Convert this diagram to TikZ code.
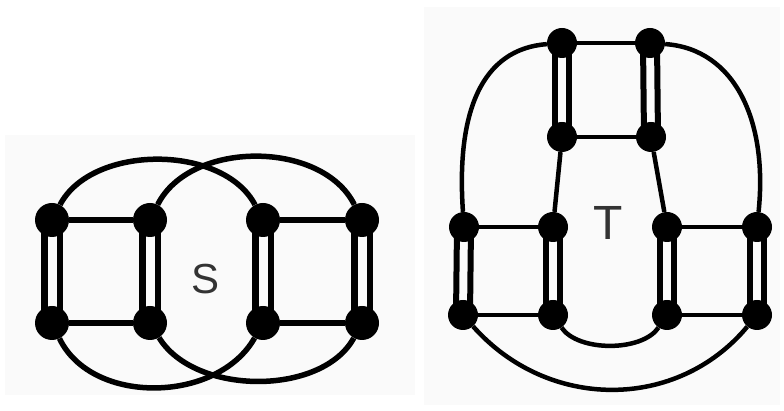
\documentclass[tikz,border=0pt]{standalone}
\usepackage{fontspec}
\newfontfamily\labelfont{Liberation Sans}
\definecolor{panelgray}{HTML}{FAFAFA}
\definecolor{labelgray}{HTML}{333333}
\tikzset{
  vtxS/.style={circle, fill=black, inner sep=0pt, minimum size=34pt},
  vtxT/.style={circle, fill=black, inner sep=0pt, minimum size=30pt},
  edgeS/.style={line width=5.5pt},
  edgeT/.style={line width=4.5pt},
  railS/.style={line width=6.5pt},
  railT/.style={line width=6pt}
}

\begin{document}
\begin{tikzpicture}[x=1pt, y=1pt]
			%%%%% START %%%%%
			\useasboundingbox (0, 0) rectangle (784, 411);
			\fill[panelgray] (5, 16) rectangle (415, 276);
			\fill[panelgray] (424, 6) rectangle (780, 404);
			
			% graph S
			\node[vtxS] (a1) at (52, 191) {};
			\node[vtxS] (a2) at (150, 191) {};
			\node[vtxS] (a3) at (263, 191) {};
			\node[vtxS] (a4) at (362, 191) {};
			\node[vtxS] (b1) at (52, 88) {};
			\node[vtxS] (b2) at (150, 88) {};
			\node[vtxS] (b3) at (263, 88) {};
			\node[vtxS] (b4) at (362, 88) {};
			\node[text=labelgray, font=\labelfont\fontsize{42}{42}\selectfont] (s) at (206, 132) {S};
			
			\draw[edgeS] (a1) -- (a2);
			\draw[edgeS] (b1) -- (b2);
			\draw[edgeS] (a3) -- (a4);
			\draw[edgeS] (b3) -- (b4);
			\foreach \p/\q in {a1/b1, a2/b2, a3/b3, a4/b4}
			  \foreach \s in {-7.75, 7.75}
			    \draw[railS] ([xshift=\s pt]\p.center) -- ([xshift=\s pt]\q.center);
			
			\draw[edgeS] (a1) .. controls +(40, 76) and +(-40, 76) .. (a3);
			\draw[edgeS] (a2) .. controls +(40, 80) and +(-40, 80) .. (a4);
			\draw[edgeS] (b1) .. controls +(40, -83) and +(-45, -80) .. (b3);
			\draw[edgeS] (b2) .. controls +(45, -73) and +(-40, -73) .. (b4);
			
			% graph T
			\node[vtxT] (t1) at (562, 368) {};
			\node[vtxT] (t2) at (650, 368) {};
			\node[vtxT] (u1) at (562, 274) {};
			\node[vtxT] (u2) at (651, 274) {};
			\node[vtxT] (l1) at (464, 184) {};
			\node[vtxT] (l2) at (553, 184) {};
			\node[vtxT] (r1) at (667, 184) {};
			\node[vtxT] (r2) at (757, 184) {};
			\node[vtxT] (l3) at (463, 96) {};
			\node[vtxT] (l4) at (553, 96) {};
			\node[vtxT] (r3) at (667, 96) {};
			\node[vtxT] (r4) at (757, 96) {};
			\node[text=labelgray, font=\labelfont\fontsize{48}{48}\selectfont] (t) at (608, 188) {T};
			
			\draw[edgeT] (t1) -- (t2);
			\draw[edgeT] (u1) -- (u2);
			\draw[edgeT] (u1) -- (l2);
			\draw[edgeT] (u2) -- (r1);
			\draw[edgeT] (l1) -- (l2);
			\draw[edgeT] (l3) -- (l4);
			\draw[edgeT] (r1) -- (r2);
			\draw[edgeT] (r3) -- (r4);
			\foreach \p/\q in {t1/u1, t2/u2, l1/l3, l2/l4, r1/r3, r2/r4}
			  \foreach \s in {-7, 7}
			    \draw[railT] ([xshift=\s pt]\p.center) -- ([xshift=\s pt]\q.center);
			
			\draw[edgeT] (l4) .. controls +(25, -37) and +(-25, -37) .. (r3);
			\draw[edgeT] (l3) .. controls +(85, -96) and +(-80, -96) .. (r4);
			\draw[edgeT] (l1) .. controls (456, 300) and (482, 362) .. (t1);
			\draw[edgeT] (t2) .. controls (735, 362) and (768, 290) .. (r2);
			%%%%% END %%%%%
\end{tikzpicture}
\end{document}
